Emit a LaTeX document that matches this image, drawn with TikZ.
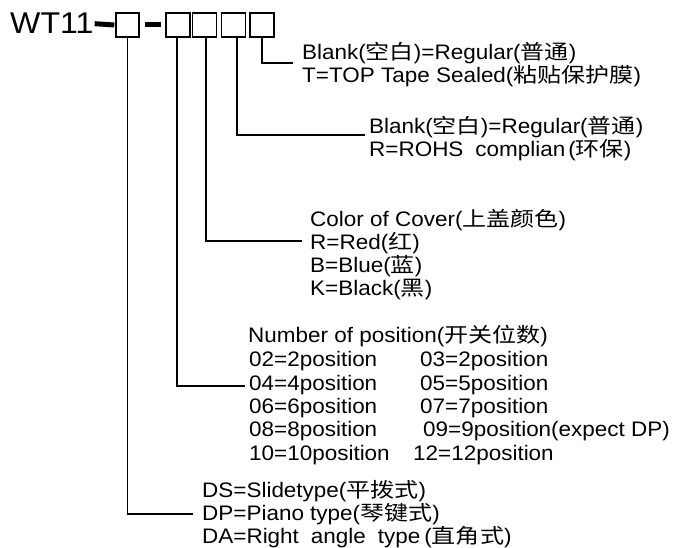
\documentclass[tikz,border=0pt]{standalone}
\usepackage{fontspec}
\setmainfont{Liberation Sans}[FakeStretch=1.07]
\newfontfamily\cjk{Noto Sans CJK SC}[Scale=0.97,FakeStretch=1.18]
\usetikzlibrary{calc}
\newcommand\zh[1]{{\cjk #1}}
\begin{document}
\begin{tikzpicture}[x=1pt,y=-1pt,
  lbl/.style={anchor=base west, inner sep=0pt, font=\fontsize{21}{24}\selectfont},
  box/.style={draw, line width=1.4pt, minimum width=24pt, minimum height=24pt, inner sep=0pt},
  conn/.style={line width=1.3pt},
  dashbar/.style={line width=5pt}]
\useasboundingbox (0,0) rectangle (679,548);
% title and boxes
\node[anchor=base west, inner sep=0pt, font=\fontsize{30}{32}\selectfont] (title) at (10,34) {WT11};
\node[box, minimum width=23pt] (b1) at (127.5,25) {};
\node[box] (b2) at (178,25) {};
\node[box] (b3) at (204.5,25) {};
\node[box] (b4) at (233.5,25) {};
\node[box] (b5) at (262,25) {};
\draw[dashbar] ([xshift=1pt]title.east) -- ([xshift=-1pt]b1.west);
\draw[dashbar] ([xshift=5pt]b1.east) -- ([xshift=-4pt]b2.west);
% block 5
\node[lbl] (t1) at (302,60) {Blank(\zh{空白})=Regular(\zh{普通})};
\node[lbl] (t2) at (302,83) {T=TOP Tape Sealed(\zh{粘贴保护膜})};
% block 4
\node[lbl] (r1) at (369,134) {Blank(\zh{空白})=Regular(\zh{普通})};
\node[lbl] (r2) at (369,157) {R=ROHS\hspace{12pt}complian\hspace{3pt}(\zh{环保})};
% block 3
\node[lbl] (c1) at (310,226) {Color of Cover(\zh{上盖颜色})};
\node[lbl] (c2) at (310,249) {R=Red(\zh{红})};
\node[lbl] (c3) at (310,272) {B=Blue(\zh{蓝})};
\node[lbl] (c4) at (310,295) {K=Black(\zh{黑})};
% block 2
\node[lbl] (n0) at (248,342) {Number of position(\zh{开关位数})};
\node[lbl] (n1) at (249,366) {02=2position};
\node[lbl] (n2) at (249,390) {04=4position};
\node[lbl] (n3) at (249,413) {06=6position};
\node[lbl] (n4) at (249,436) {08=8position};
\node[lbl] (n5) at (249,460) {10=10position};
\node[lbl] (m1) at (420,366) {03=2position};
\node[lbl] (m2) at (420,390) {05=5position};
\node[lbl] (m3) at (420,413) {07=7position};
\node[lbl] (m4) at (423,436) {09=9position(expect DP)};
\node[lbl] (m5) at (413,460) {12=12position};
% block 1
\node[lbl] (d1) at (202,497) {DS=Slidetype(\zh{平拨式})};
\node[lbl] (d2) at (202,520) {DP=Piano type(\zh{琴键式})};
\node[lbl] (d3) at (202,543) {DA=Right\hspace{12pt}angle\hspace{12pt}type\hspace{4pt}(\zh{直角式})};
% connectors
\draw[conn] (b5.south) |- ($(t1.base west)+(-9,3)$);
\draw[conn] ([xshift=3.5pt]b4.south) |- ($(r1.base west)+(-4,1)$);
\draw[conn] ([xshift=1.5pt]b3.south) |- ($(c2.base west)+(-8,-8)$);
\draw[conn] ([xshift=-1pt]b2.south) |- ($(n2.base west)+(-4,-4)$);
\draw[conn] (b1.south) |- ($(d2.base west)+(-9,-6)$);
\end{tikzpicture}
\end{document}
